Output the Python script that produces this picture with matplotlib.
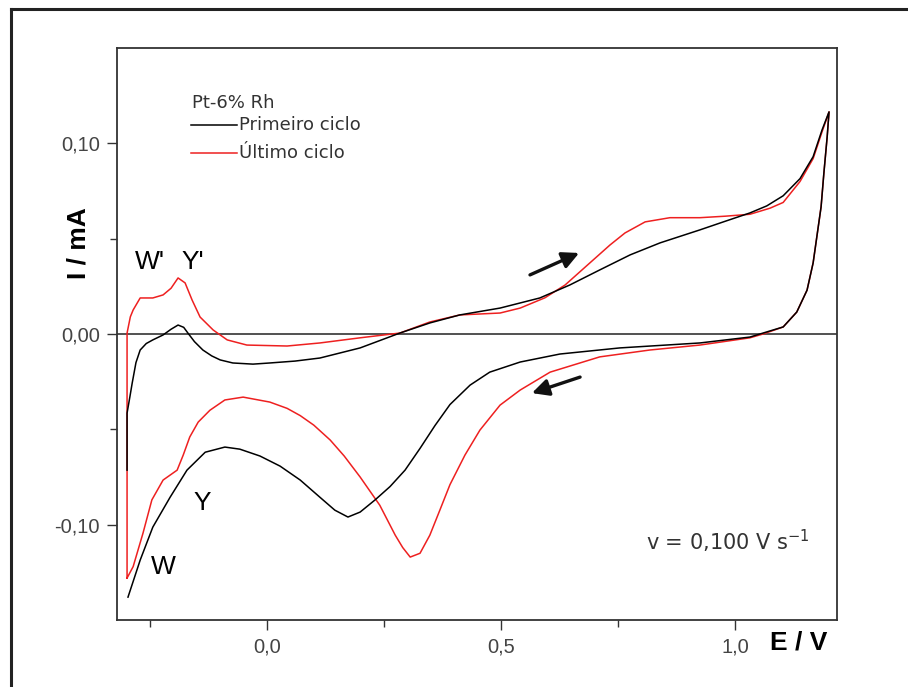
import matplotlib
matplotlib.use("Agg")
import matplotlib.pyplot as plt
from matplotlib.lines import Line2D

# ---- data (E in V, I in mA) ----
black_anodic_E = [-0.299, -0.299, -0.293, -0.288, -0.280, -0.271, -0.258, -0.244, -0.222, -0.205, -0.190,
                  -0.178, -0.169, -0.155, -0.137, -0.118, -0.100, -0.073, -0.030, 0.006, 0.060, 0.113,
                  0.199, 0.284, 0.348, 0.412, 0.498, 0.583, 0.647, 0.711, 0.776, 0.840, 0.925, 0.980,
                  1.032, 1.068, 1.103, 1.139, 1.167, 1.186, 1.201]
black_anodic_I = [-0.0714, -0.0415, -0.0330, -0.0257, -0.0150, -0.0084, -0.0050, -0.0031, -0.0005, 0.0025, 0.0047,
                  0.0035, 0.0005, -0.0040, -0.0084, -0.0115, -0.0136, -0.0152, -0.0158, -0.0152, -0.0142, -0.0126,
                  -0.0073, 0.0005, 0.0058, 0.0100, 0.0136, 0.0189, 0.0257, 0.0336, 0.0415, 0.0478, 0.0546, 0.0592,
                  0.0635, 0.0672, 0.0725, 0.0815, 0.0930, 0.1070, 0.1165]

black_cathodic_E = [1.201, 1.197, 1.190, 1.184, 1.177, 1.167, 1.154, 1.132, 1.103, 1.060, 1.032, 0.925,
                    0.754, 0.626, 0.541, 0.476, 0.434, 0.391, 0.359, 0.327, 0.295, 0.263, 0.231, 0.199,
                    0.173, 0.145, 0.113, 0.071, 0.028, -0.015, -0.058, -0.090, -0.132, -0.171, -0.207,
                    -0.244, -0.271, -0.297]
black_cathodic_I = [0.1165, 0.1034, 0.0845, 0.0667, 0.0546, 0.0373, 0.0230, 0.0115, 0.0037, 0.0005, -0.0016, -0.0047,
                    -0.0073, -0.0105, -0.0147, -0.0200, -0.0268, -0.0370, -0.0480, -0.0600, -0.0714, -0.0800, -0.0870, -0.0934,
                    -0.0960, -0.0924, -0.0856, -0.0766, -0.0693, -0.0640, -0.0604, -0.0593, -0.0620, -0.0714, -0.0856,
                    -0.1013, -0.1186, -0.1380]

red_anodic_E = [-0.299, -0.299, -0.292, -0.286, -0.271, -0.244, -0.222, -0.205, -0.190, -0.175, -0.160, -0.143,
                -0.115, -0.085, -0.043, 0.043, 0.113, 0.199, 0.284, 0.348, 0.412, 0.498, 0.541, 0.594, 0.637,
                0.690, 0.733, 0.765, 0.808, 0.861, 0.925, 0.980, 1.032, 1.075, 1.103, 1.139, 1.167, 1.186, 1.201]
red_anodic_I = [-0.1280, 0.0005, 0.0090, 0.0126, 0.0189, 0.0189, 0.0205, 0.0240, 0.0294, 0.0268, 0.0178, 0.0089,
                0.0021, -0.0031, -0.0058, -0.0063, -0.0047, -0.0020, 0.0005, 0.0063, 0.0100, 0.0110, 0.0136, 0.0190, 0.0257,
                0.0373, 0.0467, 0.0530, 0.0588, 0.0610, 0.0610, 0.0618, 0.0628, 0.0660, 0.0690, 0.0800, 0.0920, 0.1060, 0.1165]

red_cathodic_E = [1.201, 1.197, 1.190, 1.184, 1.177, 1.167, 1.154, 1.132, 1.103, 1.060, 1.032, 0.925,
                  0.818, 0.711, 0.605, 0.541, 0.498, 0.455, 0.423, 0.391, 0.370, 0.348, 0.327, 0.306,
                  0.290, 0.274, 0.241, 0.199, 0.165, 0.135, 0.100, 0.071, 0.043, 0.006, -0.051, -0.090,
                  -0.122, -0.147, -0.165, -0.179, -0.192, -0.222, -0.246, -0.265, -0.286, -0.299]
red_cathodic_I = [0.1165, 0.1034, 0.0845, 0.0667, 0.0546, 0.0373, 0.0230, 0.0115, 0.0037, 0.0000, -0.0020, -0.0058,
                  -0.0084, -0.0120, -0.0200, -0.0294, -0.0373, -0.0504, -0.0635, -0.0790, -0.0920, -0.1055, -0.1150, -0.1170,
                  -0.1120, -0.1055, -0.0898, -0.0750, -0.0640, -0.0556, -0.0478, -0.0428, -0.0390, -0.0357, -0.0331, -0.0346,
                  -0.0400, -0.0462, -0.0540, -0.0635, -0.0714, -0.0766, -0.0870, -0.1045, -0.1220, -0.1280]

series_labels = ["Primeiro ciclo", "Último ciclo"]
legend_title = "Pt-6% Rh"
x_major = [0.0, 0.5, 1.0]
x_major_labels = ["0,0", "0,5", "1,0"]
x_minor = [-0.25, 0.25, 0.75]
y_major = [-0.10, 0.0, 0.10]
y_major_labels = ["-0,10", "0,00", "0,10"]
y_minor = [-0.05, 0.05]
peak_labels = ["W'", "Y'", "Y", "W"]
peak_label_E = [-0.250, -0.158, -0.139, -0.222]
peak_label_I = [0.0378, 0.0378, -0.0887, -0.1223]
arrow_tail_E = [0.562, 0.669]
arrow_tail_I = [0.031, -0.0226]
arrow_head_E = [0.667, 0.566]
arrow_head_I = [0.0425, -0.031]

FONTS = ["Liberation Sans", "DejaVu Sans"]

# ---- figure ----
fig = plt.figure(figsize=(9.08, 6.87), dpi=100)
ax = fig.add_axes([117/908, 1-620/687, 720/908, 572/687])

# outer frame (left and top edges)
fig.add_artist(Line2D([11/908, 11/908], [0, 1-9/687], transform=fig.transFigure, color="#222222", lw=2.2))
fig.add_artist(Line2D([11/908, 1], [1-9/687, 1-9/687], transform=fig.transFigure, color="#222222", lw=2.2))

ax.axhline(0, color="#222222", lw=1.1, zorder=1)
ax.plot(black_anodic_E + black_cathodic_E, black_anodic_I + black_cathodic_I, color="black", lw=1.1, zorder=3)
ax.plot(red_anodic_E + red_cathodic_E, red_anodic_I + red_cathodic_I, color="#ee2020", lw=1.1, zorder=2)

ax.set_xlim(-0.3205, 1.218)
ax.set_ylim(-0.150, 0.150)

ax.set_xticks(x_major)
ax.set_xticklabels(x_major_labels)
ax.set_xticks(x_minor, minor=True)
ax.set_yticks(y_major)
ax.set_yticklabels(y_major_labels)
ax.set_yticks(y_minor, minor=True)
ax.tick_params(which="major", direction="out", length=7.5, width=1.0, color="#333333",
               labelsize=14.5, labelcolor="#444444")
ax.tick_params(which="minor", direction="out", length=5, width=1.0, color="#333333")
ax.tick_params(axis="x", which="major", pad=5)
ax.tick_params(axis="y", which="major", pad=5)
for lab in ax.get_xticklabels() + ax.get_yticklabels():
    lab.set_family(FONTS)
for s in ax.spines.values():
    s.set_linewidth(1.3)
    s.set_color("#333333")

fig.text(799/908, 1-642/687, "E / V", ha="center", va="center", fontsize=19, fontweight="bold",
         family=FONTS)
fig.text(79/908, 1-243/687, "I / mA", ha="center", va="center", rotation=90, fontsize=19,
         fontweight="bold", family=FONTS)

for t, e, i in zip(peak_labels, peak_label_E, peak_label_I):
    ax.text(e, i, t, ha="center", va="center", fontsize=19, color="black", family=FONTS)

for te, ti, he, hi in zip(arrow_tail_E, arrow_tail_I, arrow_head_E, arrow_head_I):
    ax.annotate("", xy=(he, hi), xytext=(te, ti),
                arrowprops=dict(arrowstyle="-|>,head_length=1.0,head_width=0.5", color="#111111", lw=2.4,
                                shrinkA=0, shrinkB=0))

ax.text(0.81, -0.1087, "v = 0,100 V s$^{\\mathregular{-1}}$", ha="left", va="center", fontsize=15,
        color="#333333", family=["DejaVu Sans"])

# manual legend
ax.text(0.104, 0.9038, legend_title, transform=ax.transAxes, ha="left", va="center", fontsize=13,
        color="#333333")
for k, (lab, col) in enumerate(zip(series_labels, ["black", "#ee2020"])):
    yy = [0.8654, 0.8164][k]
    ax.add_line(Line2D([0.1028, 0.1667], [yy, yy], transform=ax.transAxes, color=col, lw=1.1))
    ax.text(0.1694, yy, lab, transform=ax.transAxes, ha="left", va="center", fontsize=13, color="#333333")

fig.savefig("out.png", dpi=100)
